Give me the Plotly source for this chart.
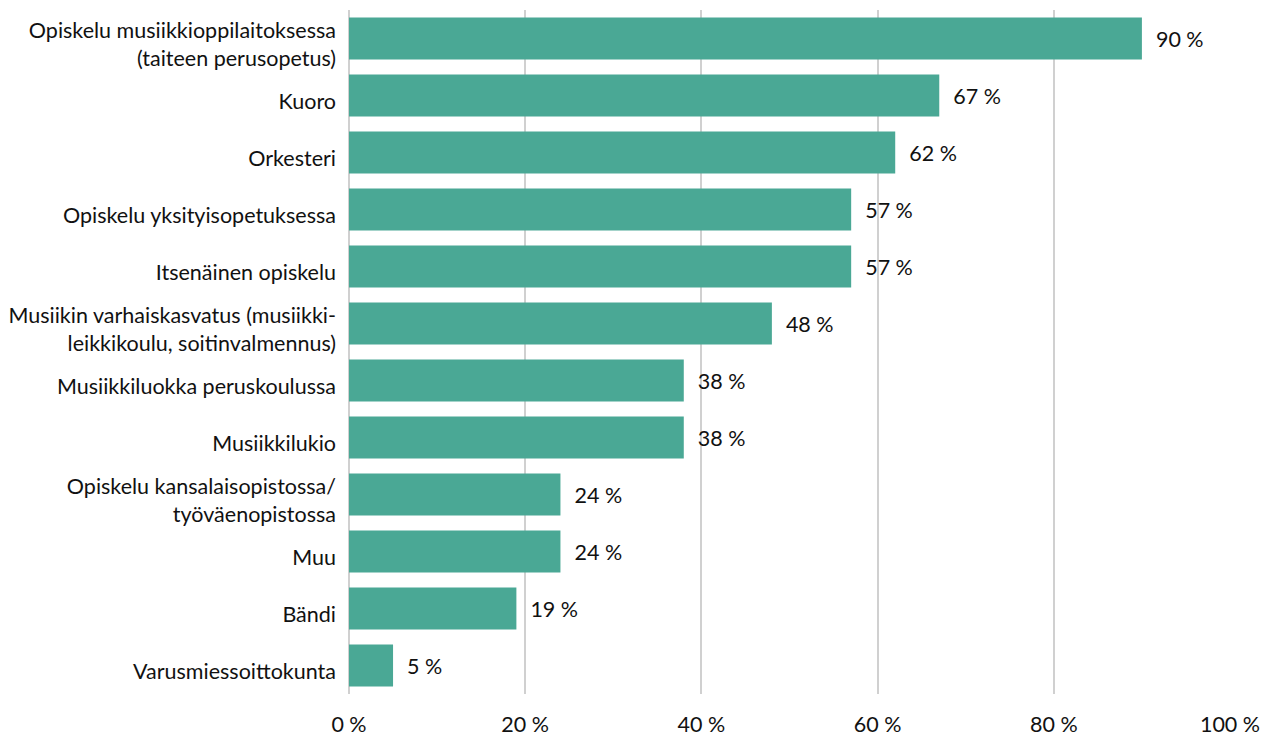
import plotly.graph_objects as go

categories = [
    "Opiskelu musiikkioppilaitoksessa<br>(taiteen perusopetus)",
    "Kuoro",
    "Orkesteri",
    "Opiskelu yksityisopetuksessa",
    "Itsenäinen opiskelu",
    "Musiikin varhaiskasvatus (musiikki-<br>leikkikoulu, soitinvalmennus)",
    "Musiikkiluokka peruskoulussa",
    "Musiikkilukio",
    "Opiskelu kansalaisopistossa/<br>työväenopistossa",
    "Muu",
    "Bändi",
    "Varusmiessoittokunta",
]
values = [90, 67, 62, 57, 57, 48, 38, 38, 24, 24, 19, 5]
tick_vals = [0, 20, 40, 60, 80, 100]
tick_text = ["0 %", "20 %", "40 %", "60 %", "80 %", "100 %"]

fig = go.Figure()
fig.add_trace(
    go.Bar(
        x=values,
        y=categories,
        orientation="h",
        marker=dict(color="#4aa895", line=dict(width=0)),
        width=0.74,
        text=[f"  {v} %" for v in values],
        textposition="outside",
        textfont=dict(size=21.5, color="#111111"),
        cliponaxis=False,
        hoverinfo="skip",
    )
)

fig.update_layout(
    width=1262,
    height=738,
    margin=dict(l=349, r=32, t=10, b=44),
    plot_bgcolor="white",
    paper_bgcolor="white",
    font=dict(family="Lato", size=21.5, color="#111111"),
    showlegend=False,
    uniformtext=dict(minsize=21, mode="show"),
    xaxis=dict(
        range=[0, 100],
        tickvals=tick_vals,
        ticktext=tick_text,
        showgrid=True,
        gridcolor="#d0d0d0",
        gridwidth=2,
        zeroline=True,
        zerolinecolor="#d0d0d0",
        zerolinewidth=2,
        showline=False,
        ticks="",
        ticklabelstandoff=15,
        automargin=False,
    ),
    yaxis=dict(
        autorange="reversed",
        showgrid=False,
        showline=False,
        ticks="",
        ticklabelstandoff=12,
        ticklabelshift=-6,
        automargin=False,
    ),
)

# drop the default 8px body margin so the figure fills the window exactly
fig.write_html(
    "out.html",
    config={"displayModeBar": False},
    post_script="document.body.style.margin='0';document.body.style.overflow='hidden';",
)
